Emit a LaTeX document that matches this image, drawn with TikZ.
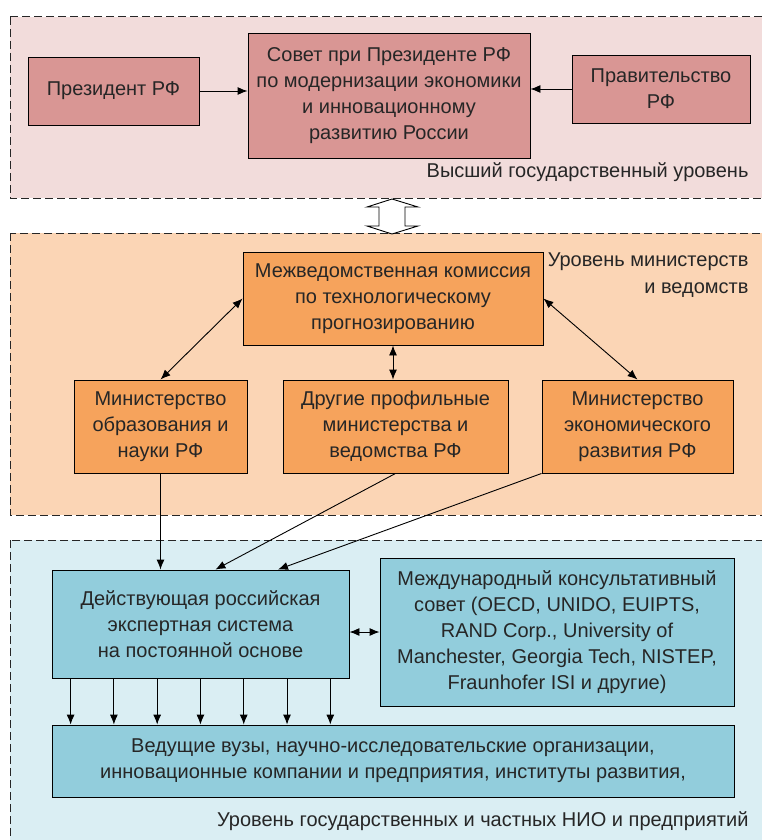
\documentclass[tikz,border=0pt]{standalone}
\usepackage{fontspec}
\setmainfont{Liberation Sans}
\usetikzlibrary{arrows.meta,calc}
\definecolor{Ink}{HTML}{262626}
\definecolor{TopBand}{HTML}{F2DCDB}
\definecolor{TopBox}{HTML}{D99694}
\definecolor{MidBand}{HTML}{FBD5B5}
\definecolor{MidBox}{HTML}{F6A35C}
\definecolor{LowBand}{HTML}{DAEEF3}
\definecolor{LowBox}{HTML}{92CDDC}
\begin{document}
\begin{tikzpicture}[x=1pt,y=-1pt,every node/.style={font=\fontsize{20}{26}\selectfont,text=Ink},band/.style={draw=Ink,line width=1pt,dash pattern=on 8pt off 4pt},box/.style={draw=black,line width=0.9pt,inner sep=0pt,align=center},link/.style={draw=black,line width=0.9pt,-{Latex[length=10pt,width=8pt]}},dlink/.style={link,{Latex[length=10pt,width=8pt]}-{Latex[length=10pt,width=8pt]}}]
\clip (0,0) rectangle (762,840);\fill[white] (0,0) rectangle (762,840);
% levels
\draw[band,fill=TopBand] (10,17) rectangle (775,198);\draw[band,fill=MidBand] (10,233) rectangle (775,515);\draw[band,fill=LowBand] (10,540) rectangle (775,860);
\draw[fill=white,draw=black,line width=0.9pt] (392,199)--(418,207)--(405,207)--(405,226)--(418,226)--(392,234)--(367,226)--(379,226)--(379,207)--(367,207)--cycle;
\node[anchor=east] (lvtop) at (752,172) {Высший государственный уровень};
\node[anchor=north east,align=right] (lvmid) at (752,249) {Уровень министерств\\[1pt]и ведомств};
\node[anchor=east] (lvlow) at (752,821) {Уровень государственных и частных НИО и предприятий};

% top level
\node[box,fill=TopBox,minimum width=171,minimum height=68] (pr) at (113.5,91) {Президент РФ};
\node[box,fill=TopBox,minimum width=282,minimum height=125] (sv) at (389,95.5) {Совет при Президенте РФ\\по модернизации экономики\\и инновационному\\развитию России};
\node[box,fill=TopBox,minimum width=178,minimum height=68] (pv) at (661,89) {Правительство\\РФ};
\draw[link] (pr.east)--(pr.east -| sv.west);\draw[link] (pv.west)--(pv.west -| sv.east);

% ministries
\node[box,fill=MidBox,minimum width=300,minimum height=93] (mk) at (393,298.5) {Межведомственная комиссия\\по технологическому\\прогнозированию};
\node[box,fill=MidBox,minimum width=173,minimum height=93] (mo) at (160.5,426.5) {Министерство\\образования и\\науки РФ};
\node[box,fill=MidBox,minimum width=225,minimum height=93] (dr) at (395.5,426.5) {Другие профильные\\министерства и\\ведомства РФ};
\node[box,fill=MidBox,minimum width=191,minimum height=93] (me) at (637.5,426.5) {Министерство\\экономического\\развития РФ};
\draw[dlink] (mk.west)--(mo.north);\draw[dlink] (mk.south)--(mk.south |- dr.north);\draw[dlink] (mk.east)--(me.north);

% research and enterprises
\node[box,fill=LowBox,minimum width=297,minimum height=108] (de) at (200.5,624) {Действующая российская\\экспертная система\\на постоянной основе};
\node[box,fill=LowBox,minimum width=354,minimum height=148] (mc) at (557,632) {Международный консультативный\\совет (OECD, UNIDO, EUIPTS,\\RAND Corp., University of\\Manchester, Georgia Tech, NISTEP,\\Fraunhofer ISI и другие)};
\node[box,fill=LowBox,minimum width=682,minimum height=72] (vu) at (393,761) {Ведущие вузы, научно-исследовательские организации,\\инновационные компании и предприятия, институты развития,};
\draw[link] (mo.south)--(mo.south |- de.north);
\draw[link] (dr.south)--($(de.north west)!0.55!(de.north east)$);
\draw[link] (me.south west)--($(de.north west)!0.76!(de.north east)$);
\draw[dlink] (mc.west -| de.east)--(mc.west);
\foreach \i [evaluate=\i as \f using 0.064+0.1453*\i] in {0,...,6}
  \draw[link] ($(de.south west)!\f!(de.south east)$) coordinate (p\i)--(p\i |- vu.north);
\end{tikzpicture}
\end{document}
